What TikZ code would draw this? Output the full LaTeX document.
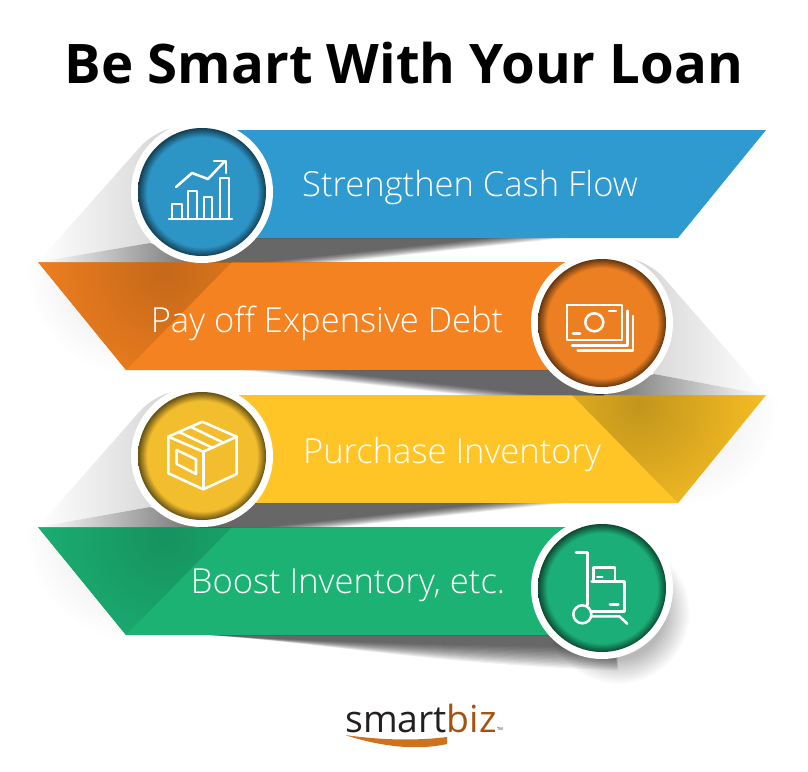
\documentclass[tikz,border=0pt]{standalone}
\usepackage{fontspec}
\setmainfont{Open Sans}
\newfontfamily\lightfont{Open Sans Light}
\definecolor{cashblue}{RGB}{46,154,208}
\definecolor{debtorange}{RGB}{245,130,32}
\definecolor{stockyellow}{RGB}{255,196,37}
\definecolor{boostgreen}{RGB}{27,178,116}
\definecolor{cashring}{RGB}{45,148,198}
\definecolor{debtring}{RGB}{236,127,34}
\definecolor{stockring}{RGB}{242,190,46}
\definecolor{boostring}{RGB}{28,174,120}
\definecolor{logodark}{RGB}{35,31,32}
\definecolor{logobrown}{RGB}{163,82,15}
\definecolor{logoswoosh}{RGB}{208,113,28}
\newcommand{\rimshade}[2]{\pgfdeclareradialshading{#1}{\pgfpoint{0bp}{0bp}}{color(0bp)=(#2);color(21.5bp)=(#2);color(25bp)=(#2!42!black);color(50bp)=(#2!42!black)}}
\rimshade{rimblue}{cashring}
\rimshade{rimorange}{debtring}
\rimshade{rimyellow}{stockring}
\rimshade{rimgreen}{boostring}
\pgfdeclareradialshading{softglow}{\pgfpoint{0bp}{0bp}}{color(0bp)=(gray!60);color(16bp)=(gray!55);color(25bp)=(white);color(50bp)=(white)}
\begin{document}
\begin{tikzpicture}[x=0.75pt, y=-0.75pt]
    \tikzstyle{ring} = [circle, fill=white, minimum size=106.5pt, inner sep=0pt]
    \tikzstyle{disc} = [circle, minimum size=96pt, inner sep=0pt]
    \tikzstyle{ribbontext} = [text=white, font=\lightfont\fontsize{25.9}{30}\selectfont]
    \tikzstyle{iconline} = [draw=white, line width=1.9pt, line join=round, line cap=round]
    \tikzstyle{shadowlayer} = [fill=black, opacity=0.054]
    \useasboundingbox (0,0) rectangle (808,772);

    % Title
    \node [font=\bfseries\fontsize{40.9}{46}\selectfont, text=black] (title) at (404,63) {Be Smart With Your Loan};

    % Faint glow round the ribbon tips
    \begin{scope}
        \clip (0,262) rectangle (300,400);
        \shade [inner color=gray!22, outer color=white] (130,270) circle [radius=105];
    \end{scope}
    \begin{scope}
        \clip (500,395) rectangle (808,520);
        \shade [inner color=gray!22, outer color=white] (674,403) circle [radius=105];
    \end{scope}
    \begin{scope}
        \clip (0,527) rectangle (300,665);
        \shade [inner color=gray!22, outer color=white] (130,535) circle [radius=105];
    \end{scope}

    % Ribbons
    \fill [cashblue] (202,130) -- (766,130) -- (678,238) -- (202,238) -- cycle;
    \fill [debtorange] (38,262) -- (602,262) -- (602,370) -- (126,370) -- cycle;
    \fill [stockyellow] (202,395) -- (766,395) -- (678,503) -- (202,503) -- cycle;
    \fill [boostgreen] (38,527) -- (602,527) -- (602,635) -- (126,635) -- cycle;

    % Darker parts of the ribbons
    \begin{scope}
        \clip (38,262) -- (232,262) -- (126,370) -- cycle;
        \shade [inner color=debtorange!80!black, outer color=debtorange] (165,272) circle [radius=150];
    \end{scope}
    \begin{scope}
        \clip (572,395) -- (766,395) -- (678,503) -- cycle;
        \shade [inner color=stockyellow!76!black, outer color=stockyellow] (639,405) circle [radius=150];
    \end{scope}
    \begin{scope}
        \clip (38,527) -- (232,527) -- (126,635) -- cycle;
        \shade [inner color=boostgreen!82!black, outer color=boostgreen] (165,537) circle [radius=150];
    \end{scope}

    % Cast shadows
    \shade [left color=white, right color=gray!42] (38,262) -- (140,147) .. controls (150,136) and (163,130) .. (175,127) -- (202,192) -- (150,243) -- cycle;
    \shade [right color=white, left color=gray!42] (766,395) -- (664,278) .. controls (654,267) and (641,261) .. (629,258) -- (602,323) -- (654,374) -- cycle;
    \shade [left color=white, right color=gray!42] (38,527) -- (140,411) .. controls (150,400) and (163,394) .. (175,391) -- (202,456) -- (150,507) -- cycle;

    % Shadows under the ribbons
    \shade [left color=white, right color=gray!80!black] (38,262) -- (150,243) -- (210,262) -- cycle;
    \foreach \s in {0,...,15}
        \fill [shadowlayer] (200,238) -- ({490+5*\s},238) -- ({265+5*\s},262) -- (200,262) -- cycle;
    \shade [right color=white, left color=gray!80!black] (766,395) -- (654,374) -- (594,395) -- cycle;
    \foreach \s in {0,...,15}
        \fill [shadowlayer] (604,370) -- ({314-5*\s},370) -- ({539-5*\s},395) -- (604,395) -- cycle;
    \shade [left color=white, right color=gray!80!black] (38,527) -- (150,507) -- (210,527) -- cycle;
    \foreach \s in {0,...,15}
        \fill [shadowlayer] (200,503) -- ({490+5*\s},503) -- ({265+5*\s},527) -- (200,527) -- cycle;
    \shade [shading=softglow] (618,612) circle [radius=72];
    \foreach \s in {0,...,15}
        \fill [shadowlayer] (210,635) .. controls ({300+2.5*\s},{641+0.25*\s}) and (430,{645+1.25*\s}) .. (618,{648+1.5*\s}) -- (602,588) -- (570,635) -- cycle;

    % Circles
    \node [ring] (cashouter) at (202,192) {};
    \node [ring] (debtouter) at (602,323) {};
    \node [ring] (stockouter) at (202,456) {};
    \node [ring] (boostouter) at (602,588) {};
    \node [disc, shading=rimblue] (cashdisc) at (cashouter) {};
    \node [disc, shading=rimorange] (debtdisc) at (debtouter) {};
    \node [disc, shading=rimyellow] (stockdisc) at (stockouter) {};
    \node [disc, shading=rimgreen] (boostdisc) at (boostouter) {};

    % Ribbon labels
    \node [ribbontext] (cash) at (470,188) {Strengthen Cash Flow};
    \node [ribbontext] (debt) at (327,323) {Pay off Expensive Debt};
    \node [ribbontext] (stock) at (452,455) {Purchase Inventory};
    \node [ribbontext] (boost) at (348,585) {Boost Inventory, etc.};

    % Chart icon
    \draw [iconline] (169,219) -- (232,219);
    \draw [iconline] (172,219) -- (172,204) -- (182,204) -- (182,219);
    \draw [iconline] (188,219) -- (188,191) -- (197,191) -- (197,219);
    \draw [iconline] (204,219) -- (204,197) -- (212,197) -- (212,219);
    \draw [iconline] (220,219) -- (220,178) -- (229,178) -- (229,219);
    \draw [iconline] (176,187) -- (192,173) -- (208,179) -- (225,161);
    \draw [iconline] (214,161) -- (226,161) -- (226,173);

    % Money icon
    \draw [iconline] (567,305) rectangle (622,340);
    \draw [iconline] (594.3,322.3) circle [radius=9];
    \draw [iconline] (609,311) -- (616,311);
    \draw [iconline] (573,333.7) -- (580,333.7);
    \draw [iconline] (572,345.3) -- (627.7,345.3) -- (627.7,310.7);
    \draw [iconline] (577.7,350.7) -- (633,350.7) -- (633,316);

    % Box icon
    \draw [iconline] (202.3,421.7) -- (236.7,436.7) -- (203.3,451.7) -- (168.3,436.7) -- cycle;
    \draw [iconline] (168.3,436.7) -- (168.3,473.3) -- (203.3,489.3) -- (236.7,474) -- (236.7,436.7);
    \draw [iconline] (203.3,451.7) -- (203.3,489.3);
    \draw [iconline] (191,427) -- (224,443);
    \draw [iconline] (179,432) -- (213,448);
    \draw [iconline] (176.7,450) -- (196,459.3) -- (196,474) -- (176.7,464) -- cycle;

    % Trolley icon
    \draw [iconline] (576,552.3) -- (587.3,552.3) -- (587.3,605);
    \draw [iconline] (582.3,614.3) circle [radius=9];
    \draw [iconline] (591.7,616.3) -- (619.3,616.3) -- (627.3,623.7);
    \draw [iconline] (591.7,581.7) -- (624.3,581.7) -- (624.3,611.7) -- (591.7,611.7);
    \draw [iconline] (593.3,581.7) -- (593.3,567.3) -- (615,567.3) -- (615,581.7);
    \draw [iconline] (597.3,577) -- (602.3,577);
    \draw [iconline] (610,604.3) -- (618.3,604.3);

    % Logo
    \node [font=\fontsize{28}{32}\selectfont] (logo) at (421,718) {\textcolor{logodark}{smart}\textcolor{logobrown}{biz}};
    \node [font=\fontsize{3}{4}\selectfont, text=logodark] (logotm) at (500,729) {TM};
    \fill [logoswoosh] (345,735) .. controls (380,740) and (415,741) .. (447,737) -- (447,744) .. controls (420,750) and (385,748) .. (345,735) -- cycle;
\end{tikzpicture}
\end{document}
